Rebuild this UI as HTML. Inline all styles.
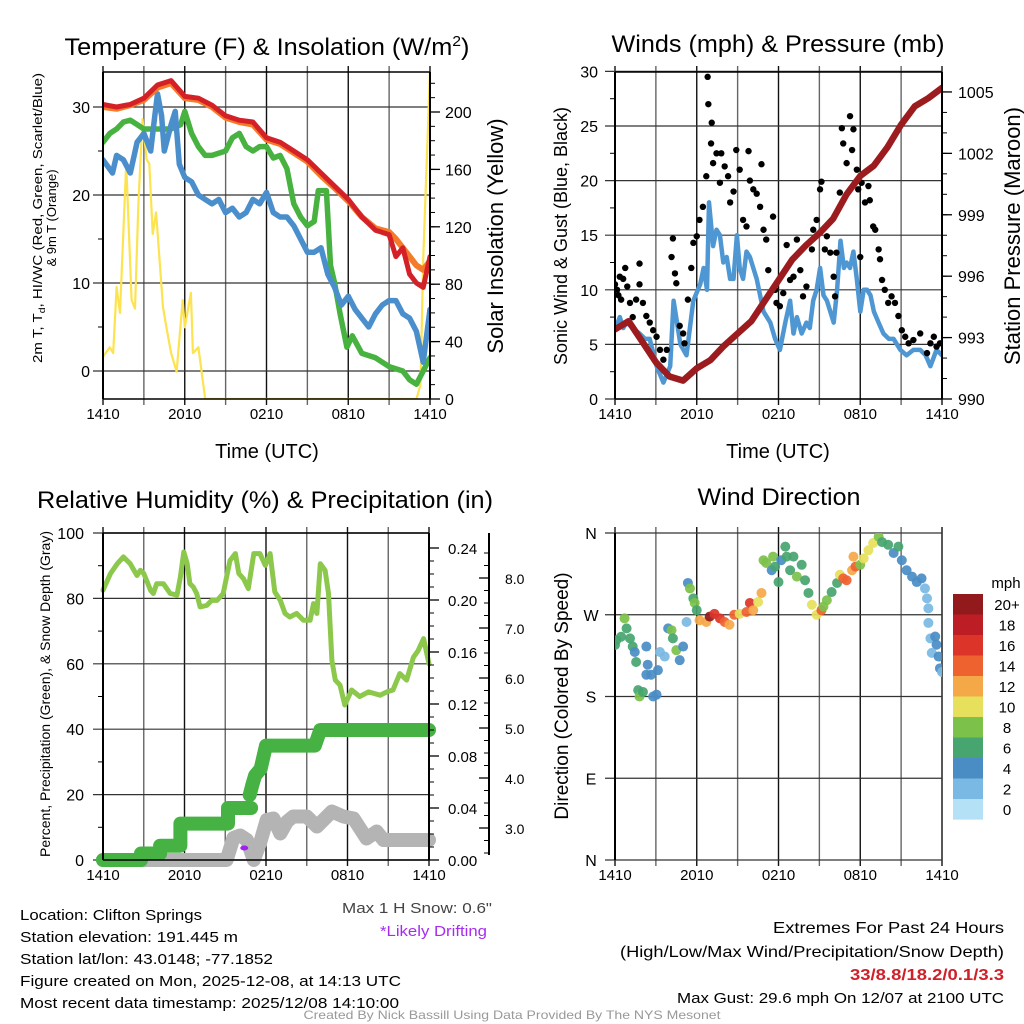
<!DOCTYPE html>
<html><head><meta charset="utf-8"><style>
html,body{margin:0;padding:0;background:#fff;}
svg{display:block;font-family:"Liberation Sans",sans-serif;}
</style></head><body>
<svg id="chart" width="1024" height="1024" viewBox="0 0 1024 1024" xmlns="http://www.w3.org/2000/svg">
<defs>
<clipPath id="c1"><rect x="103" y="72" width="327" height="327"/></clipPath>
<clipPath id="c2"><rect x="615" y="72" width="327" height="327"/></clipPath>
<clipPath id="c3"><rect x="103" y="533" width="326" height="327"/></clipPath>
<clipPath id="c4"><rect x="615" y="533" width="327" height="327"/></clipPath>
</defs>
<g id="layer"></g>
<text x="267" y="55" font-size="24" text-anchor="middle" textLength="405" lengthAdjust="spacingAndGlyphs">Temperature (F) &amp; Insolation (W/m<tspan dy="-9" font-size="15">2</tspan><tspan dy="9">)</tspan></text>
<text x="778" y="52" font-size="24" text-anchor="middle" textLength="333" lengthAdjust="spacingAndGlyphs">Winds (mph) &amp; Pressure (mb)</text>
<text x="265" y="508" font-size="24" text-anchor="middle" textLength="456" lengthAdjust="spacingAndGlyphs">Relative Humidity (%) &amp; Precipitation (in)</text>
<text x="779" y="505" font-size="24" text-anchor="middle" textLength="163" lengthAdjust="spacingAndGlyphs">Wind Direction</text>
<text x="267" y="458" font-size="20" text-anchor="middle">Time (UTC)</text>
<text x="778" y="458" font-size="20" text-anchor="middle">Time (UTC)</text>
<g transform="translate(42,218) rotate(-90)"><text x="0" y="0" font-size="13" text-anchor="middle" textLength="290" lengthAdjust="spacingAndGlyphs">2m T, T<tspan dy="3" font-size="9">d</tspan><tspan dy="-3">, HI/WC (Red, Green, Scarlet/Blue)</tspan></text><text x="0" y="14" font-size="13" text-anchor="middle">&amp; 9m T (Orange)</text></g>
<text transform="translate(503,236) rotate(-90)" font-size="22" text-anchor="middle">Solar Insolation (Yellow)</text>
<text transform="translate(567,236) rotate(-90)" font-size="18" text-anchor="middle">Sonic Wind &amp; Gust (Blue, Black)</text>
<text transform="translate(1020,236) rotate(-90)" font-size="22" text-anchor="middle">Station Pressure (Maroon)</text>
<text transform="translate(50,694) rotate(-90)" font-size="14" text-anchor="middle">Percent, Precipitation (Green), &amp; Snow Depth (Gray)</text>
<text transform="translate(568,696) rotate(-90)" font-size="19" text-anchor="middle">Direction (Colored By Speed)</text>
<text x="20" y="920" font-size="15" textLength="182" lengthAdjust="spacingAndGlyphs">Location: Clifton Springs</text>
<text x="20" y="942" font-size="15" textLength="218" lengthAdjust="spacingAndGlyphs">Station elevation: 191.445 m</text>
<text x="20" y="964" font-size="15" textLength="253" lengthAdjust="spacingAndGlyphs">Station lat/lon: 43.0148; -77.1852</text>
<text x="20" y="986" font-size="15" textLength="381" lengthAdjust="spacingAndGlyphs">Figure created on Mon, 2025-12-08, at 14:13 UTC</text>
<text x="20" y="1008" font-size="15" textLength="379" lengthAdjust="spacingAndGlyphs">Most recent data timestamp: 2025/12/08 14:10:00</text>
<text x="492" y="913" font-size="15" text-anchor="end" fill="#444" textLength="150" lengthAdjust="spacingAndGlyphs">Max 1 H Snow: 0.6"</text>
<text x="487" y="936" font-size="15" text-anchor="end" fill="#a62cf0" textLength="107" lengthAdjust="spacingAndGlyphs">*Likely Drifting</text>
<text x="1004" y="933" font-size="16" text-anchor="end" textLength="231" lengthAdjust="spacingAndGlyphs">Extremes For Past 24 Hours</text>
<text x="1004" y="957" font-size="16" text-anchor="end" textLength="384" lengthAdjust="spacingAndGlyphs">(High/Low/Max Wind/Precipitation/Snow Depth)</text>
<text x="1004" y="980" font-size="16" text-anchor="end" font-weight="bold" fill="#d0202a" textLength="154" lengthAdjust="spacingAndGlyphs">33/8.8/18.2/0.1/3.3</text>
<text x="1004" y="1003" font-size="15" text-anchor="end" textLength="327" lengthAdjust="spacingAndGlyphs">Max Gust: 29.6 mph On 12/07 at 2100 UTC</text>
<text x="512" y="1019" font-size="12" text-anchor="middle" fill="#999" textLength="417" lengthAdjust="spacingAndGlyphs">Created By Nick Bassill Using Data Provided By The NYS Mesonet</text>
</svg>
<script>
// ---------- data ----------
const xTickLabels = ['1410','2010','0210','0810','1410'];
const tempHours = [0,1,2,3,4,5,6,7,8,9,10,11,12,13,14,15,16,17,18,19,20,21,21.5,22,22.5,23,23.5,24];
const tempRed = [30.3,30.0,30.3,31,32.5,33,31.2,31,30.2,29,28.5,28.3,26.5,26,25,24,22.5,21,19.5,17.5,16,15.5,13,14,11,10,9.5,13];
const tempOrange = [30,29.8,30.2,30.8,32.2,32.7,31,30.8,30,28.8,28.3,28,26.3,25.8,24.8,23.8,22.2,20.8,19.3,17.5,16.2,15.8,15,14,13,12,11.5,12.5];
const tdHours = [0,0.7,1,1.5,2,2.5,3,3.5,3.8,4,4.3,4.5,5,5.3,5.6,6,6.5,7,7.5,8,8.5,9,9.5,10,10.5,11,11.5,12,12.5,13,13.5,14,14.5,15,15.5,16,16.5,17,17.5,18,18.5,19,19.5,20,20.5,21,21.5,22,22.5,23,23.5,24];
const tdBlue = [24,22.5,24.5,24,22.5,26,27,25,29,31.5,29,25,28,29.5,23.5,22,21.5,20,19.5,19,19.5,18,18.5,17.5,18,19.5,19,20.3,18,17.5,17.5,16.5,15,13.5,13.5,14,11,9.5,7.5,8.5,7,6,5,6.5,7.5,8,8,6.5,6,4.5,1,7];
const hiHours = [0,0.5,1,1.5,2,2.5,3,4,5,5.7,6,6.5,7,7.5,8,9,9.5,10,10.5,11,11.5,12,12.5,13,13.5,14,14.5,15,15.5,15.8,16.4,16.7,17,17.4,17.9,18.3,19,20,21,22,22.5,23,23.5,24];
const hiGreen = [26,27,27.5,28.3,28.5,28,27.5,27.5,27.5,28,29.5,27,25.5,24.5,24.5,25,26.5,27,25.5,25,25.5,25.5,24.2,24.5,23,19,17.5,16.5,17,20.5,20.5,12,10,6.5,2.7,4,2,1.5,0.5,0,-1,-1.5,0,1.5];
const solarHours = [0,0.5,0.75,1,1.25,1.7,2.1,2.35,2.6,2.9,3.2,3.4,3.65,3.9,4.4,4.65,5.0,5.4,5.85,6.0,6.45,6.6,7.0,7.5,7.5,23.0,23.3,23.5,24];
const solarValues = [29.5,36,32,78,60,164,69,63,136,195,167,164,115,130,64,50,32,19,69,50,74,32,36,0,0,0,10,97,229];
const windHours = [0,0.35,0.6,0.85,1.3,1.8,2.2,2.55,3.05,3.55,4.05,4.3,4.8,5.25,5.75,6.25,6.5,6.75,6.9,7.2,7.45,7.7,7.95,8.2,8.45,8.7,8.95,9.15,9.4,9.65,9.9,10.15,10.4,10.65,10.9,11.4,11.75,12.1,12.5,12.85,13.1,13.35,13.7,14.05,14.3,14.55,14.8,15.05,15.3,15.55,15.8,16.05,16.3,16.55,16.8,17.0,17.25,17.5,17.75,18.0,18.25,18.5,18.75,19.0,19.35,19.7,20.1,20.45,20.95,21.4,21.9,22.4,22.8,23.15,23.6,24];
const windSpeed = [6.3,7.5,6.5,7,6.5,6,5.5,5.5,3,1.5,3,9,5,4,9,10.5,12,10,18,14,15.5,15,12.5,13,11,11,15,12,11,13.5,13,12,11,9.5,8,7,5.5,4.5,7,9,6,7.5,6,7,6.5,9,10,12,9.5,9,8,7,10,14.5,12,12.5,12,13.5,11,8,10,10,9.5,8,7,6,5.5,5.5,4.5,4,4.5,4.5,4,3,4.5,4];
const gustHours = [0,0.15,0.25,0.35,0.45,0.6,0.75,0.9,1.1,1.3,1.55,1.8,1.8,2.05,2.3,2.55,2.8,3.05,3.3,3.55,3.8,4.15,4.25,4.4,4.5,4.75,5.0,5.1,5.35,5.6,5.75,6.0,6.2,6.45,6.7,6.8,6.85,7.05,7.1,7.2,7.45,7.7,7.8,8.05,8.3,8.45,8.7,8.9,9.15,9.4,9.65,9.8,9.9,10.15,10.4,10.65,10.75,10.9,11.1,11.25,11.6,11.75,11.85,12.1,12.35,12.6,12.85,13.1,13.35,13.6,13.8,14.05,14.45,14.55,14.8,15.05,15.15,15.4,15.55,15.8,16.05,16.15,16.25,16.5,16.65,16.75,17.0,17.25,17.4,17.5,17.75,17.85,18.0,18.1,18.35,18.6,18.7,18.95,19.1,19.35,19.45,19.6,19.8,20.05,20.3,20.55,20.8,21.05,21.3,21.55,21.9,22.4,22.9,23.15,23.4,23.6,23.85];
const gustSpeed = [10.5,10,9.5,11.2,9.1,11,12,10.3,8.8,7.5,9.1,12.4,10.5,8.8,7.6,7,6.3,5.7,4.5,3.6,4.5,13,14.7,11.5,10.6,6.7,6,5.1,9.1,12,14.3,14.9,16.4,17.6,20.4,29.5,27,23.4,25.3,21.6,22.5,19.8,22.5,21.3,20.4,18,19,22.8,21,16.4,15.8,22.7,20,19.2,18.8,17.6,21.5,15.5,14.6,11.8,16.7,10,8.8,8.5,9.7,14.1,10.9,11.2,14.6,11.8,9.4,10.3,13.7,15.5,16.4,19.2,19.9,13.7,14.9,13.4,11.2,9.4,13.4,18.9,24.8,23.4,21.6,25.9,22.8,24.7,21,19.2,13,19.8,18,19.5,18.2,15.8,15.5,13.7,12.8,10.9,10,8.8,9.4,8.8,7.6,6.3,5.7,5.1,5.4,6,4.2,5.1,5.7,4.8,5.1];
const pressHours = [0,1,2,3,4,5,6,7,8,9,10,11,12,13,14,15,16,17,18,19,20,21,22,23,24];
const pressValues = [993.4,993.8,992.8,991.8,991.1,990.9,991.5,991.9,992.6,993.2,993.8,994.8,995.8,996.8,997.5,998.1,998.8,1000.0,1000.9,1001.4,1002.3,1003.4,1004.3,1004.7,1005.2];
const rhHours = [0,0.55,1.05,1.5,2.0,2.5,2.75,3.0,3.5,3.7,3.95,4.45,4.95,5.45,5.7,5.95,6.2,6.4,6.65,6.9,7.15,7.65,8.0,8.4,8.85,9.35,9.75,10.0,10.35,10.7,11.1,11.55,11.95,12.3,12.65,13.05,13.4,13.75,14.25,14.75,15.25,15.5,15.75,16.0,16.35,16.6,16.85,17.1,17.45,17.8,18.3,18.9,19.55,20.4,20.9,21.35,21.85,22.35,22.85,23.2,23.6,24];
const rhValues = [82.5,87.6,90.6,92.7,90.6,87,88.6,87.6,82.5,81.5,84.5,84.5,81.5,81,86.6,94.2,90.6,84.5,83.5,81.5,77.4,77.9,79.4,79.4,81.5,91.6,93.7,87.6,86,83,93.7,93.7,90.1,93.7,82,79.4,75.4,74.3,75.4,73.3,73.3,78.4,75.4,90.6,88.6,81.5,61,55,53.5,47.4,52,50,51.4,50.4,51.4,52,57,55,62,64,67.7,60];
const precipHours = [0,2.8,2.8,4.2,4.2,5.7,5.7,9.2,9.2,10.9];
const precipIn = [0,0,0.005,0.005,0.011,0.011,0.028,0.028,0.04,0.04];
const precip2Hours = [10.8,11.0,11.2,11.6,12.0,15.6,16.0,24];
const precip2In = [0.05,0.058,0.065,0.07,0.088,0.088,0.1,0.1];
const snowHours = [0,9.1,9.6,10.1,10.6,11.1,11.55,12.05,12.55,13.05,13.55,14.0,15.0,15.75,16.85,17.7,18.45,19.4,20.15,20.65,24];
const snowIn = [2.36,2.36,2.8,2.85,2.76,2.36,2.69,3.16,3.19,2.89,3.13,3.23,3.23,3.03,3.33,3.23,3.19,2.79,2.93,2.76,2.76];
const driftHours = [10.4];
const driftSnow = [2.6];
const dirHours = [0,0.1,0.45,0.7,0.85,1.1,1.3,1.45,1.55,1.7,1.8,2.05,2.3,2.4,2.3,2.65,2.8,3.05,3.15,3.3,3.65,3.9,4.15,4.25,4.5,4.75,5.0,5.25,5.35,5.5,5.75,5.85,6.0,6.2,6.7,6.95,7.3,7.7,8.05,8.4,8.75,9.15,9.65,9.9,10.15,10.5,10.75,10.9,11.1,11.5,11.6,11.75,12.0,12.2,12.5,12.6,12.85,13.1,13.35,13.7,13.95,14.2,14.45,14.8,15.15,15.3,15.55,15.9,16.3,16.5,16.75,17.0,17.4,17.5,17.65,18.0,18.25,18.6,18.95,19.35,19.6,20.05,20.45,20.8,21.05,21.4,21.8,22.15,22.5,22.75,22.9,23.0,23.0,23.15,23.5,23.6,23.25,23.75,23.85,24];
const dirDegrees = [236.7,242,245.8,266,255,244,235,229,218,187,180,185,235,215,204,204,180,182,209,229,224,255,253,244,231,220,235,262,305,299,288,283,275,264,262,268,271,266,262,259,270,271,273,283,275,284,294,330,327,319,334,323,306,330,345,334,319,334,312,325,308,294,281,270,275,279,286,295,305,314,310,308,319,334,323,325,332,341,349,356,350,347,338,345,330,319,312,306,310,299,288,277,261,244,246,237,228,224,211,207];
const dirSpeed = [6,6,6,8,6,6,6,4,6,6,8,6,4,4,4,4,4,4,4,2,2,4,8,6,8,4,4,2,4,8,6,8,6,12,12,20,16,16,14,12,14,10,14,16,12,10,12,8,8,4,8,6,6,4,6,6,6,6,8,6,6,6,10,10,14,8,8,6,6,10,14,14,12,12,14,8,10,10,10,8,6,6,4,6,4,4,4,4,4,2,2,2,2,2,4,4,2,4,4,2];
const speedBins = ['20+','18','16','14','12','10','8','6','4','2','0'];
const speedColors = ['#921a1c','#bd1e26','#dc3428','#ee6230','#f5a848','#e6e05c','#7cc14a','#47a56f','#4a8cc4','#7ab9e3','#b5e1f6'];

// ---------- helpers ----------
const NS = 'http://www.w3.org/2000/svg';
const layer = document.getElementById('layer');
function mk(tag, attrs, parent) {
  const e = document.createElementNS(NS, tag);
  for (const k in attrs) e.setAttribute(k, attrs[k]);
  (parent || layer).appendChild(e);
  return e;
}
function txt(x, y, s, size, anchor, parent) {
  const e = mk('text', {x: x, y: y, 'font-size': size, 'text-anchor': anchor || 'start'}, parent);
  e.textContent = s;
  return e;
}
function linePath(xs, ys, fx, fy) {
  return xs.map((h, i) => (i ? 'L' : 'M') + fx(h).toFixed(1) + ',' + fy(ys[i]).toFixed(1)).join(' ');
}
function colorFor(s) {
  const idx = s >= 20 ? 0 : 10 - Math.round(s / 2);
  return speedColors[Math.max(0, Math.min(10, idx))];
}

const panels = [
  {id: 'temperature', x0: 103, x1: 430, y0: 72, y1: 399, clip: 'c1'},
  {id: 'winds', x0: 615, x1: 942, y0: 72, y1: 399, clip: 'c2'},
  {id: 'humidity', x0: 103, x1: 429, y0: 533, y1: 860, clip: 'c3'},
  {id: 'direction', x0: 615, x1: 942, y0: 533, y1: 860, clip: 'c4'}
];
function xs(p) { return h => p.x0 + h * (p.x1 - p.x0) / 24; }

panels.forEach(p => {
  const g = mk('g', {});
  
  
  const fx = xs(p);
  for (let h = 0; h <= 24; h += 3) {
    const x = fx(h);
    const vl = mk('line', {x1: x, x2: x, y1: p.y0 - 6, y2: p.y1 + 6, stroke: (h % 6 === 0 ? '#111' : '#666'), 'stroke-width': 1.4}, g);
    
    
  }
  xTickLabels.forEach((s, i) => {
    const t = txt(fx(i * 6), p.y1 + 20, s, 15, 'middle');
    
    
  });
});

function hgrid(p, yv, fy, name) {
  yv.forEach(v => {
    const l = mk('line', {x1: p.x0 - 10, x2: p.x1, y1: fy(v), y2: fy(v), stroke: '#333', 'stroke-width': 1.2});
    
    
  });
}
function leftAxis(p, majors, labels, minors, fy, name, lx) {
  const ax = mk('line', {x1: p.x0, x2: p.x0, y1: p.y0, y2: p.y1, stroke: '#000', 'stroke-width': 2});
  
  
  minors.forEach(v => { const m = mk('line', {x1: p.x0 - 5, x2: p.x0, y1: fy(v), y2: fy(v), stroke: '#000', 'stroke-width': 1});
    
     });
  majors.forEach((v, i) => { const t = txt(lx, fy(v) + 6, labels[i], 16, 'end');
    
     });
}
function rightAxis(ax0, y0, y1, majors, labels, minors, fy, name, lx, dir, size) {
  const ax = mk('line', {x1: ax0, x2: ax0, y1: y0, y2: y1, stroke: '#000', 'stroke-width': 2});
  
  
  minors.forEach(v => { const m = mk('line', {x1: ax0, x2: ax0 + 5 * dir, y1: fy(v), y2: fy(v), stroke: '#000', 'stroke-width': 1});
    
     });
  majors.forEach((v, i) => { const m = mk('line', {x1: ax0, x2: ax0 + 10 * dir, y1: fy(v), y2: fy(v), stroke: '#000', 'stroke-width': 1.3});
    
    
    const t = txt(lx, fy(v) + 6, labels[i], size || 16, 'start');
    
     });
}
function range(a, b, s) { const r = []; for (let v = a; v <= b + 1e-9; v += s) r.push(+v.toFixed(4)); return r; }

// ---------- panel 1 ----------
(function () {
  const p = panels[0], fx = xs(p);
  const yT = v => 371 - v * 8.8;
  const yI = v => 399 - v * 1.435;
  hgrid(p, [0, 10, 20, 30], yT, 'temperature-hgrid-line');
  const g = mk('g', {'clip-path': 'url(#c1)', fill: 'none', 'stroke-linejoin': 'round', 'stroke-linecap': 'round'});
  
  
  let e;
  e = mk('path', {d: linePath(solarHours, solarValues, fx, yI), stroke: '#fde34f', 'stroke-width': 2.2}, g);
  
  
  e = mk('path', {d: linePath(hiHours, hiGreen, fx, yT), stroke: '#47b23f', 'stroke-width': 5.5}, g);
  
  
  e = mk('path', {d: linePath(tdHours, tdBlue, fx, yT), stroke: '#4a8fcc', 'stroke-width': 5.5}, g);
  
  
  e = mk('path', {d: linePath(tempHours, tempOrange, fx, yT), stroke: '#f47b2a', 'stroke-width': 6}, g);
  
  
  e = mk('path', {d: linePath(tempHours, tempRed, fx, yT), stroke: '#d42027', 'stroke-width': 5}, g);
  
  
  leftAxis(p, [0, 10, 20, 30], ['0', '10', '20', '30'], [5, 15, 25], yT, 'temperature-y', 90);
  rightAxis(p.x1, p.y0, p.y1, [0, 40, 80, 120, 160, 200], ['0', '40', '80', '120', '160', '200'], range(10, 220, 10), yI, 'insolation-y', 445, 1);
  e = mk('line', {x1: p.x0, x2: p.x1, y1: p.y0, y2: p.y0, stroke: '#000', 'stroke-width': 1.5});
  
  
  e = mk('line', {x1: p.x0, x2: p.x1, y1: p.y1, y2: p.y1, stroke: '#000', 'stroke-width': 1.5});
  
  
})();

// ---------- panel 2 ----------
(function () {
  const p = panels[1], fx = xs(p);
  const yW = v => 399 - v * 10.92;
  const yP = v => 399 - (v - 990) * 20.47;
  hgrid(p, [0, 5, 10, 15, 20, 25, 30], yW, 'winds-hgrid-line');
  const g = mk('g', {'clip-path': 'url(#c2)', fill: 'none', 'stroke-linejoin': 'round', 'stroke-linecap': 'round'});
  
  
  let e = mk('path', {d: linePath(windHours, windSpeed, fx, yW), stroke: '#4f97d2', 'stroke-width': 4.5}, g);
  
  
  gustHours.forEach((h, i) => {
    const c = mk('circle', {cx: fx(h), cy: yW(gustSpeed[i]), r: 3.2, fill: '#000'}, g);
    
    
  });
  e = mk('path', {d: linePath(pressHours, pressValues, fx, yP), stroke: '#9c1b1f', 'stroke-width': 6.5}, g);
  
  
  leftAxis(p, [0, 5, 10, 15, 20, 25, 30], ['0', '5', '10', '15', '20', '25', '30'], range(2.5, 27.5, 5), yW, 'wind-y', 598);
  rightAxis(p.x1, p.y0, p.y1, [990, 993, 996, 999, 1002, 1005], ['990', '993', '996', '999', '1002', '1005'], range(990, 1005, 1), yP, 'pressure-y', 958, 1);
  e = mk('line', {x1: p.x0, x2: p.x1, y1: p.y0, y2: p.y0, stroke: '#000', 'stroke-width': 1.5});
  
  
  e = mk('line', {x1: p.x0, x2: p.x1, y1: p.y1, y2: p.y1, stroke: '#000', 'stroke-width': 1.5});
  
  
})();

// ---------- panel 3 ----------
(function () {
  const p = panels[2], fx = xs(p);
  const yR = v => 860 - v * 3.27;
  const yPr = v => 860 - v * 1300;
  const ySn = v => 828 - (v - 3) * 50;
  hgrid(p, [0, 20, 40, 60, 80, 100], yR, 'humidity-hgrid-line');
  const g = mk('g', {fill: 'none', 'stroke-linejoin': 'round', 'stroke-linecap': 'round'});
  
  
  let e = mk('path', {d: linePath(snowHours, snowIn, fx, ySn), stroke: '#b4b4b4', 'stroke-width': 14}, g);
  
  
  e = mk('path', {d: linePath(precipHours, precipIn, fx, yPr), stroke: '#46b244', 'stroke-width': 14}, g);
  
  
  e = mk('path', {d: linePath(precip2Hours, precip2In, fx, yPr), stroke: '#46b244', 'stroke-width': 14}, g);
  
  
  e = mk('path', {d: linePath(rhHours, rhValues, fx, yR), stroke: '#8cc84b', 'stroke-width': 5}, g);
  
  
  driftHours.forEach((h, i) => {
    const d = mk('ellipse', {cx: fx(h), cy: ySn(driftSnow[i]), rx: 4, ry: 2.5, fill: '#a020f0'}, g);
    
    
  });
  leftAxis(p, [0, 20, 40, 60, 80, 100], ['0', '20', '40', '60', '80', '100'], range(10, 90, 20), yR, 'humidity-y', 84);
  rightAxis(p.x1, p.y0, p.y1, [0, 0.04, 0.08, 0.12, 0.16, 0.2, 0.24], ['0.00', '0.04', '0.08', '0.12', '0.16', '0.20', '0.24'], range(0, 0.24, 0.01), yPr, 'precip-y', 448, 1, 15);
  rightAxis(489, 533, 855, [3, 4, 5, 6, 7, 8], ['3.0', '4.0', '5.0', '6.0', '7.0', '8.0'], range(2.5, 8.5, 0.25), ySn, 'snow-y', 505, -1, 14);
  e = mk('line', {x1: p.x0, x2: p.x1, y1: p.y0, y2: p.y0, stroke: '#000', 'stroke-width': 1.5});
  
  
  e = mk('line', {x1: p.x0, x2: p.x1, y1: p.y1, y2: p.y1, stroke: '#000', 'stroke-width': 1.5});
  
  
})();

// ---------- panel 4 ----------
(function () {
  const p = panels[3], fx = xs(p);
  const yD = v => 860 - v * 327 / 360;
  hgrid(p, [0, 90, 180, 270, 360], yD, 'direction-hgrid-line');
  const dl = ['N', 'E', 'S', 'W', 'N'];
  [0, 90, 180, 270, 360].forEach((v, i) => {
    const t = txt(591, yD(v) + 6, dl[i], 16, 'middle');
    
    
  });
  let e = mk('line', {x1: p.x0, x2: p.x0, y1: p.y0, y2: p.y1, stroke: '#000', 'stroke-width': 2});
  
  
  const g = mk('g', {'clip-path': 'url(#c4)'});
  
  
  dirHours.forEach((h, i) => {
    const c = mk('circle', {cx: fx(h), cy: yD(dirDegrees[i]), r: 5, fill: colorFor(dirSpeed[i]), 'fill-opacity': 0.92}, g);
    
    
  });
  const lg = mk('g', {});
  
  
  const t0 = txt(1006, 588, 'mph', 15, 'middle', lg);
  
  
  speedBins.forEach((s, i) => {
    const r = mk('rect', {x: 953, y: 594 + i * 20.5, width: 30, height: 20.6, fill: speedColors[i]}, lg);
    
    
    const t = txt(1007, 610 + i * 20.5, s, 15, 'middle', lg);
    
    
  });
})();
</script>
</body></html>
